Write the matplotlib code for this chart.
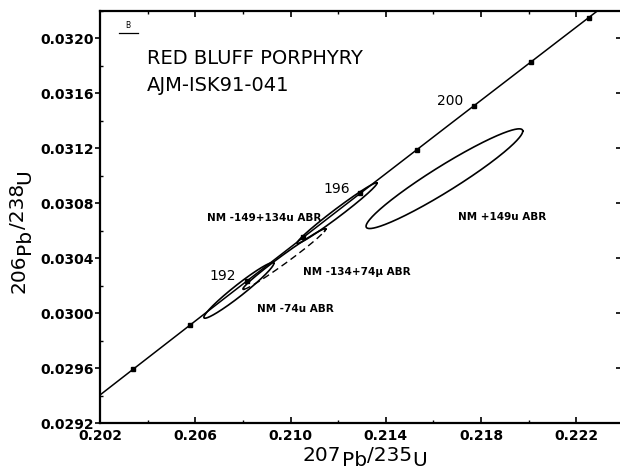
import numpy as np
import matplotlib
matplotlib.use("Agg")
import matplotlib.pyplot as plt
from matplotlib.ticker import MultipleLocator

# ---------------- data ----------------
# concordia age marks (Ma) and which ones are labelled
concordia_ages = [188, 190, 192, 194, 196, 198, 200, 202, 204]
labelled_ages = [192, 196, 200]
# U decay constants (1/yr) defining the concordia curve
LAMBDA_238 = 1.55125e-10
LAMBDA_235 = 9.8485e-10

# zircon fractions: error ellipses (centre, half-extent, error correlation)
fractions = ["NM +149u ABR", "NM -149+134u ABR", "NM -134+74\u03bc ABR", "NM -74u ABR"]
pb207_u235 = [0.21646, 0.21195, 0.20974, 0.20783]
pb206_u238 = [0.030979, 0.030728, 0.030394, 0.030166]
err_207_235 = [0.00329, 0.00168, 0.00174, 0.00147]
err_206_238 = [0.000363, 0.000221, 0.000221, 0.000203]
err_corr = [0.954, 0.986, 0.986, 0.968]

x_ticks = [0.202, 0.206, 0.210, 0.214, 0.218, 0.222]
y_ticks = [0.0292, 0.0296, 0.0300, 0.0304, 0.0308, 0.0312, 0.0316, 0.0320]

title_lines = ["RED BLUFF PORPHYRY", "AJM-ISK91-041"]
panel_letter = "B"

# ---------------- layout / style ----------------
label_pos = [(0.21703, 0.030703), (0.20649, 0.030695), (0.21052, 0.030296), (0.20859, 0.030028)]
lower_dashed = [False, False, True, False]

plt.rcParams['font.family'] = ['DejaVu Sans']
fig = plt.figure(figsize=(6.2, 4.69), dpi=100)
ax = fig.add_axes([100 / 620, 46 / 469, 524 / 620, 412 / 469])
ax.set_xlim(0.202, 0.224)
ax.set_ylim(0.0292, 0.0322)

# concordia curve
t = np.linspace(180e6, 207e6, 600)
cx = np.exp(LAMBDA_235 * t) - 1
cy = np.exp(LAMBDA_238 * t) - 1
ax.plot(cx, cy, color='black', lw=1.1, zorder=3)
ages = np.array(concordia_ages) * 1e6
mx = np.exp(LAMBDA_235 * ages) - 1
my = np.exp(LAMBDA_238 * ages) - 1
ax.plot(mx, my, ls='none', marker='s', ms=3.4, color='black', zorder=4)
for a in labelled_ages:
    ta = a * 1e6
    ax.annotate(str(a), (np.exp(LAMBDA_235 * ta) - 1, np.exp(LAMBDA_238 * ta) - 1),
                xytext=(-17, 3.5), textcoords='offset points', ha='center', va='center',
                fontsize=10)

# error ellipses
th = np.linspace(0, 2 * np.pi, 400)
for i in range(len(fractions)):
    x0, y0 = pb207_u235[i], pb206_u238[i]
    a, b, r = err_207_235[i], err_206_238[i], err_corr[i]
    ex = x0 + a * np.cos(th)
    ey = y0 + b * (r * np.cos(th) + np.sqrt(1 - r * r) * np.sin(th))
    if lower_dashed[i]:
        up = np.sin(th) >= -0.25
        exu = np.where(up, ex, np.nan)
        eyu = np.where(up, ey, np.nan)
        ax.plot(exu, eyu, color='black', lw=1.2)
        low = np.sin(th) <= -0.2
        ax.plot(np.where(low, ex, np.nan), np.where(low, ey, np.nan), color='black',
                lw=1.0, ls=(0, (5, 3)))
    else:
        ax.plot(ex, ey, color='black', lw=1.2)
    ax.text(label_pos[i][0], label_pos[i][1], fractions[i], fontsize=7.5,
            fontweight='bold', ha='left', va='center')

# titles
ax.text(0.0897, 0.8835, title_lines[0], transform=ax.transAxes, fontsize=14,
        ha='left', va='center')
ax.text(0.0897, 0.818, title_lines[1], transform=ax.transAxes, fontsize=14,
        ha='left', va='center')
ax.text(0.053, 0.966, panel_letter, transform=ax.transAxes, fontsize=5.5,
        ha='center', va='center')
ax.plot([0.036, 0.0725], [0.9466, 0.9466], transform=ax.transAxes, color='black', lw=0.9)

# ticks
ax.set_xticks(x_ticks)
ax.set_xticklabels([f"{v:.3f}" for v in x_ticks])
ax.set_yticks(y_ticks)
ax.set_yticklabels([f"{v:.4f}" for v in y_ticks])
ax.xaxis.set_minor_locator(MultipleLocator(0.002))
ax.yaxis.set_minor_locator(MultipleLocator(0.0002))
ax.tick_params(axis='x', which='major', direction='in', length=4.2, width=1.2,
               top=True, bottom=True, labelsize=10, pad=4)
ax.tick_params(axis='x', which='minor', direction='in', length=2.5, width=1.0,
               top=True, bottom=True)
ax.tick_params(axis='y', which='major', direction='out', length=3.6, width=1.2,
               left=True, right=False, labelsize=10, pad=1)
ax.tick_params(axis='y', which='minor', direction='in', length=2.4, width=1.0,
               left=True, right=False)
for lbl in ax.get_xticklabels() + ax.get_yticklabels():
    lbl.set_fontweight('bold')
sec = ax.secondary_yaxis('right')
sec.set_yticks(y_ticks)
sec.tick_params(direction='in', length=6, width=1.2, labelright=False)
for s in ax.spines.values():
    s.set_linewidth(1.6)


# axis labels built from pieces (mass numbers raised, element symbols lowered)
def chain_label(parts, x, y, rotation, shift, fs):
    first = fig.text(x, y, parts[0][0], rotation=rotation, ha='left', va='bottom',
                     fontsize=fs)
    prev, prev_shift = first, 0.0
    for txt, low in parts[1:]:
        sh = shift if low else 0.0
        d = sh - prev_shift
        if rotation == 0:
            prev = ax.annotate(txt, xy=(1, 0), xycoords=prev, xytext=(0, -d),
                               textcoords='offset points', ha='left', va='bottom',
                               fontsize=fs)
        else:
            prev = ax.annotate(txt, xy=(0, 1), xycoords=prev, xytext=(d, 0),
                               textcoords='offset points', ha='left', va='bottom',
                               rotation=rotation, fontsize=fs)
        prev_shift = sh


chain_label([("207", False), ("Pb", True), ("/235", False), ("U", True)],
            303 / 620, 0.0092, 0, 4.0, 14.5)
chain_label([("206", False), ("Pb", True), ("/238", False), ("U", True)],
            9.3 / 620, 0.3753, 90, 4.0, 14.5)

fig.savefig("out.png", dpi=100)
